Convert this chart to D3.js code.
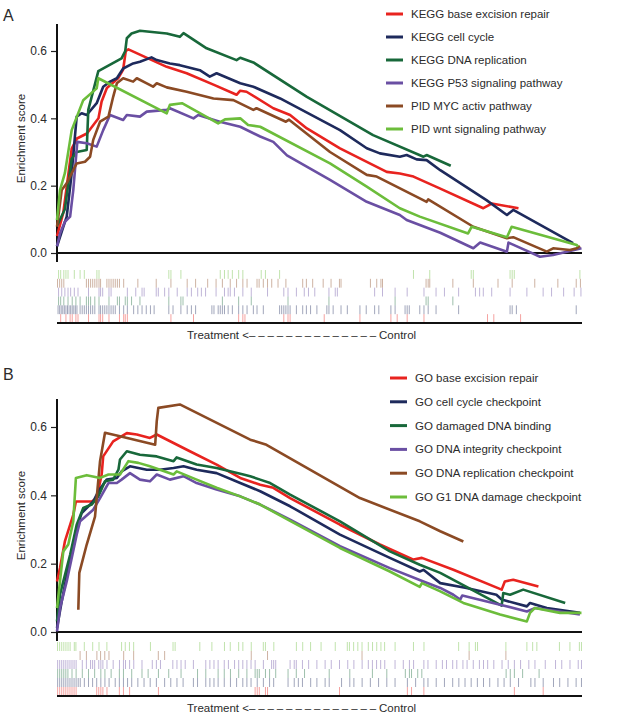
<!DOCTYPE html>
<html>
<head>
<meta charset="utf-8">
<style type="text/css">
body { margin: 0; background: #fff; }
text { font-family: "Liberation Sans", Arial, sans-serif; fill: #2b2b2b; }
</style>
</head>
<body>
<script src="https://d3js.org/d3.v7.min.js"></script>
<script>
// ---- data: running enrichment score, [rank % of gene list, ES] ----
var namesA = ["KEGG base excision repair", "KEGG cell cycle", "KEGG DNA replication",
  "KEGG P53 signaling pathway", "PID MYC activ pathway", "PID wnt signaling pathway"];
var namesB = ["GO base excision repair", "GO cell cycle checkpoint", "GO damaged DNA binding",
  "GO DNA integrity checkpoint", "GO DNA replication checkpoint", "GO G1 DNA damage checkpoint"];
var yTicks = [0, 0.2, 0.4, 0.6];

var esA_ber = [[0,0.05],[1.2,0.12],[2.8,0.31],[3.8,0.34],[5.7,0.355],[7.9,0.40],[8.5,0.45],[9.5,0.49],[11.7,0.52],[12.6,0.545],[13.1,0.60],[13.6,0.605],[20.9,0.553],[24.7,0.534],[29.8,0.50],[34.2,0.47],[34.9,0.482],[36.1,0.479],[41.2,0.43],[44.4,0.41],[47.6,0.37],[53.9,0.311],[62.8,0.241],[65.3,0.236],[67.9,0.227],[72.9,0.192],[81.2,0.133],[82.8,0.147],[87.9,0.133]];
var esA_cellcycle = [[0,0.02],[1.2,0.078],[1.85,0.108],[2.8,0.237],[3.75,0.405],[4.7,0.415],[5.66,0.41],[7.56,0.445],[8.8,0.494],[10.1,0.509],[11.4,0.519],[12.6,0.548],[14.5,0.563],[15.8,0.568],[18,0.581],[19,0.573],[21.5,0.563],[23.4,0.558],[27.2,0.543],[29.1,0.524],[30.4,0.534],[34.9,0.504],[37.4,0.494],[42.5,0.459],[53.9,0.365],[59,0.311],[61.5,0.296],[65.3,0.286],[66.6,0.291],[68.5,0.278],[70.4,0.276],[73,0.246],[81.8,0.157],[85.7,0.113],[86.9,0.128],[98.3,0.029]];
var esA_dnarep = [[0,0.08],[1.5,0.13],[2.8,0.28],[3.75,0.30],[5.66,0.306],[5.96,0.425],[7.87,0.54],[12.3,0.578],[13,0.60],[13.3,0.638],[14.2,0.652],[15.8,0.66],[20.9,0.652],[23.4,0.642],[24.1,0.653],[28.5,0.608],[34.2,0.573],[34.9,0.58],[37.4,0.566],[47.6,0.464],[60.2,0.35],[69.8,0.286],[70.4,0.291],[75,0.259]];
var esA_p53 = [[0,0.02],[0.57,0.058],[1.5,0.093],[2.5,0.108],[3.1,0.187],[3.87,0.33],[5.66,0.326],[7.56,0.316],[8.8,0.365],[10.1,0.41],[12.6,0.395],[13.3,0.41],[15.8,0.405],[17.1,0.42],[20.9,0.425],[21.5,0.43],[26,0.40],[26.9,0.41],[31,0.39],[34.9,0.375],[38.7,0.346],[41.2,0.33],[43.8,0.29],[52,0.217],[59,0.152],[65.3,0.113],[66.6,0.098],[73,0.06],[79.3,0.014],[80.6,0.031],[85.7,0.004],[86,0.031],[92,-0.011],[94.5,-0.006],[97.1,0.004],[99.9,0.014]];
var esA_myc = [[0,0.078],[0.9,0.187],[1.85,0.207],[2.8,0.237],[3.75,0.266],[5.33,0.271],[6.3,0.286],[6.9,0.336],[8.2,0.39],[9.8,0.405],[10.7,0.464],[11.4,0.504],[12.6,0.519],[14.5,0.509],[15.2,0.519],[17.1,0.504],[18.3,0.494],[19,0.504],[20.9,0.492],[24.7,0.479],[29.8,0.459],[33.6,0.454],[37.4,0.425],[38,0.43],[43.6,0.39],[44.2,0.396],[52,0.30],[59,0.232],[60.9,0.227],[69.1,0.162],[70.4,0.152],[70.7,0.159],[79.3,0.078],[85.7,0.044],[86.9,0.047],[93.3,0.004],[94.5,0.014],[97.7,0.009],[99,0.014],[99.6,0.021]];
var esA_wnt = [[0,0.098],[0.57,0.187],[1.5,0.237],[2.8,0.365],[5,0.454],[7.56,0.489],[7.87,0.519],[20.9,0.415],[21.5,0.44],[23.8,0.445],[30.7,0.385],[32,0.397],[34.9,0.40],[36.4,0.38],[38.7,0.375],[52,0.266],[59,0.197],[65.3,0.133],[69.1,0.108],[78.3,0.058],[79,0.078],[85.7,0.047],[86.6,0.078],[99,0.024],[99.2,0.019]];

var esB_ber = [[0,0.148],[0.57,0.187],[1.5,0.265],[3.1,0.343],[3.6,0.382],[6.6,0.382],[7.56,0.392],[8.5,0.46],[8.8,0.514],[10.7,0.558],[13.3,0.582],[15.2,0.578],[17.7,0.568],[19,0.578],[25.3,0.529],[30.4,0.49],[34.9,0.451],[38.7,0.431],[41.2,0.422],[44.4,0.392],[53.9,0.314],[61.5,0.256],[67.9,0.212],[69.5,0.217],[75.5,0.182],[84.7,0.124],[85.3,0.148],[86.9,0.153],[91.7,0.133]];
var esB_cellcycle = [[0,0.012],[0.9,0.09],[2.15,0.187],[3.75,0.304],[4.7,0.348],[6.9,0.382],[7.87,0.412],[9.47,0.446],[11.4,0.451],[12.3,0.47],[13.9,0.485],[17.1,0.475],[19.6,0.475],[22.2,0.48],[24.1,0.485],[26.6,0.475],[30.4,0.465],[34.9,0.436],[38.7,0.412],[44.4,0.368],[53.9,0.285],[63.4,0.217],[69.1,0.177],[69.8,0.182],[73,0.143],[78,0.129],[83.7,0.109],[84.7,0.095],[89.5,0.075],[90.1,0.085],[93.3,0.07],[99.6,0.056]];
var esB_damaged = [[0,0.031],[0.57,0.109],[1.2,0.148],[2.5,0.226],[3.75,0.314],[5,0.363],[6.6,0.373],[7.87,0.397],[9.14,0.441],[10.7,0.446],[11.7,0.475],[12,0.505],[13.3,0.529],[15.8,0.519],[19,0.514],[22.2,0.50],[22.8,0.511],[26.6,0.49],[30.4,0.48],[35.5,0.461],[36.8,0.456],[38.7,0.446],[40.6,0.436],[44.4,0.402],[53.9,0.324],[63.4,0.236],[69.1,0.197],[73,0.173],[84.7,0.077],[85,0.114],[86.3,0.109],[88.8,0.124],[96.8,0.085]];
var esB_integrity = [[0,0.002],[0.57,0.07],[1.85,0.148],[3.75,0.285],[4.4,0.324],[6.9,0.358],[8.2,0.392],[9.8,0.436],[11.4,0.436],[12.3,0.446],[13.9,0.465],[15.8,0.446],[17.7,0.441],[19,0.461],[21.5,0.446],[24.1,0.456],[26.6,0.436],[30.4,0.417],[34.9,0.397],[38.7,0.373],[44.4,0.329],[53.9,0.251],[63.4,0.187],[69.8,0.148],[73,0.129],[75.5,0.109],[76.8,0.095],[77.2,0.107],[84.4,0.08],[89.5,0.06],[91,0.07],[95.8,0.06],[99.6,0.051]];
var esB_replication = [[4.06,0.065],[4.25,0.173],[5.66,0.256],[7.24,0.338],[8.2,0.50],[9.14,0.583],[12,0.573],[18.7,0.548],[19,0.617],[19.3,0.656],[23.4,0.666],[36.8,0.563],[39.9,0.548],[57.7,0.392],[69.1,0.324],[73,0.295],[77.4,0.265]];
var esB_g1 = [[0,0.07],[0.57,0.148],[1.2,0.236],[2.15,0.256],[3.1,0.324],[3.6,0.451],[5.66,0.459],[8.2,0.451],[9.8,0.461],[12,0.461],[13.6,0.50],[15.5,0.495],[17.7,0.485],[22.2,0.461],[22.8,0.47],[26.6,0.446],[30.4,0.422],[34.9,0.397],[38.7,0.373],[44.4,0.325],[53.9,0.246],[63.4,0.177],[69.1,0.132],[69.5,0.143],[73,0.119],[77.4,0.085],[84.4,0.051],[89.5,0.031],[90.1,0.056],[91,0.07],[95.8,0.056],[99.9,0.056]];

// ---- data: gene set hit positions (rank %) ----
var hitsA_ber = [0.7,1.7,2.5,2.9,3.6,4,6,8,8.3,8.7,9.9,11.9,12.7,13,13.4,21.7,26,34.6,35.4,35.8,43.2,44,44.4,50.9,57.7,63.6,64.8,66.7,69.9,82,83.2,88.3];
var hitsA_cellcycle = [0.2,0.5,0.8,1.1,1.4,1.7,2,2.3,2.6,2.9,3.2,3.5,3.8,4.4,4.8,5.2,5.6,6,6.4,6.8,7.2,8,8.3,8.7,9.1,9.5,9.9,10.3,10.7,11.1,11.9,12.7,13.4,14.6,15.4,16.2,17,17.8,18.5,21.3,22.1,23.6,24.8,25.6,26.4,29.5,29.9,30.7,31.1,31.5,31.9,32.6,33.4,34.6,35.4,36.2,37.4,38.1,39.3,42.4,42.8,43.2,43.6,44,44.4,45.6,46.8,47.5,48.3,49.5,51.4,51.8,52.6,54.1,55.3,57.7,58.9,60.5,61.3,63.6,64.4,66.3,66.7,67.1,69.1,69.9,70.7,72.2,76.5,86.3,86.7,87.5,98.9];
var hitsA_dnarep = [0.3,0.7,1.3,2.1,2.9,3.6,4.4,5.6,6,6.4,7.2,8,9.9,11.5,11.9,13,13.4,14.2,15.8,21.3,23.6,24,31.5,34.6,37,44,51.8,64.4,70.3,70.7,75.4];
var hitsA_p53 = [0.3,0.9,1.5,2.1,2.6,3.3,4,6,8,8.3,8.7,9.9,10.3,13.4,15,16.2,16.6,18.9,19.3,20.5,21.3,22.9,24.8,25.6,26.8,27.5,28.3,30.3,31.9,32.6,33,33.8,35.4,37,40.1,43.2,44,45.6,47.1,47.9,49.1,51.8,53,53.4,60.5,62,64.4,66.7,69.9,72.2,73.8,76.5,79.7,80.5,81.2,82.8,86.3,89.5,92.6,94.2,96.5,98.5,99.8];
var hitsA_myc = [0.1,0.5,0.9,1.3,5.6,6,6.4,6.8,7.2,7.6,8,8.3,9.5,9.9,10.3,10.7,11.1,11.5,11.9,12.7,15.4,18.9,21.7,24.8,26.4,28.7,30.3,31.5,33,34.2,35.4,36.2,38.1,38.5,39.3,40.1,40.9,42.1,43.6,46.8,47.5,48.7,50.7,52.2,53.8,54.1,59.7,60.9,61.7,62,70.3,70.7,71,75.4,79.3,84,86.7,91,95.4,98.9,99.7];
var hitsA_wnt = [0.3,0.7,1.3,1.7,2.1,3.3,4.4,5.2,7.6,8,21.3,21.7,23.6,31.1,31.9,32.6,33.4,34.6,35.4,38.9,39.7,42.4,67.9,71,78.9,79.3,86.3,86.7,87.1,99.6];

var hitsB_ber = [0.12,0.51,0.9,1.29,1.68,2.08,2.47,2.86,3.25,3.64,7.56,7.95,8.35,8.74,9.52,11.88,12.66,13.83,19.32,37.74,38.14,38.53,39.71,40.1,53.81,66.74,67.53,69.88,87.12,92.61];
var hitsB_cellcycle = [0.12,0.51,0.9,1.29,1.68,2.08,2.47,2.86,3.25,3.64,4.04,4.43,5.21,6,6.78,7.56,8.35,9.13,9.92,11.09,11.88,12.66,13.44,14.23,15.4,16.58,17.75,18.93,20.5,21.67,22.85,24.02,25.98,26.77,28.34,29.12,29.9,30.69,31.86,33.04,34.21,35.39,36.17,36.96,38.14,39.31,40.49,41.27,44.01,45.19,45.97,46.75,48.32,49.5,51.07,51.85,54.2,55.77,56.55,58.12,59.69,61.25,62.82,64.39,66.74,68.31,69.88,70.66,72.23,73.8,75.37,76.54,77.72,78.89,80.07,81.24,82.42,83.99,85.16,86.34,87.91,90.26,91.04,92.61,94.57,95.75,97.32,98.88,99.9];
var hitsB_damaged = [0.12,0.51,0.9,1.29,1.68,2.08,2.86,3.64,4.82,6,7.17,8.35,9.13,10.31,11.88,12.66,14.23,16.19,17.36,19.32,21.28,23.63,26.77,28.34,30.69,31.86,33.04,34.61,36.17,37.74,38.14,38.53,39.71,40.49,41.66,44.01,45.58,47.15,51.85,55.77,60.08,62.82,66.35,67.13,67.53,68.71,69.49,85.55,86.34,87.12,88.69,91.83];
var hitsB_integrity = [0.12,0.51,0.9,1.29,1.68,2.08,2.47,2.86,3.25,3.64,4.82,5.6,6.39,6.78,7.17,7.95,8.35,8.74,9.52,10.7,11.9,12.66,13.05,13.83,14.62,16.19,18.15,18.93,19.71,22.06,22.85,23.63,24.42,25.98,28.34,29.12,29.9,30.69,31.86,32.65,33.82,34.61,35.39,36.17,36.96,37.74,39.31,40.88,41.27,41.66,44.4,45.19,45.58,46.75,47.93,49.5,51.07,52.24,53.81,55.38,56.55,58.12,59.3,60.08,60.87,61.65,62.43,64.39,65.96,67.13,67.92,69.88,70.66,72.23,73.41,74.19,75.37,76.15,77.32,78.11,79.29,80.46,81.24,82.03,83.2,84.77,85.95,87.12,88.3,89.87,91.04,93,94.96,96.14,97.71,99.28,99.9];
var hitsB_replication = [4.4,5.6,7.6,8.3,9.1,9.9,12.7,14.6,19.3,20.5,37,40.1,58.1,78.5,85.5];
var hitsB_g1 = [0.1,0.5,0.9,1.3,1.7,2.1,2.5,3.3,3.6,5.2,6.8,8,9.5,12.3,13,13.8,14.6,17.8,22.1,22.5,27.2,29.5,31.9,33,34.6,35.4,37,39.3,39.7,41.3,45.6,46.8,48.3,50.3,53,55.3,55.7,56.5,57.3,58.1,59.3,60.1,60.9,61.7,62.4,64.4,67.9,69.9,76.5,78.5,79.7,80.1,85.5,89.5,90.6,91.4,95.7,97.7,99.5,99.9];

var esA = [esA_ber, esA_cellcycle, esA_dnarep, esA_p53, esA_myc, esA_wnt];
var esB = [esB_ber, esB_cellcycle, esB_damaged, esB_integrity, esB_replication, esB_g1];
var hitsA = [hitsA_ber, hitsA_cellcycle, hitsA_dnarep, hitsA_p53, hitsA_myc, hitsA_wnt];
var hitsB = [hitsB_ber, hitsB_cellcycle, hitsB_damaged, hitsB_integrity, hitsB_replication, hitsB_g1];

// same palette in both panels
var colors = ["#e8231f", "#1e2a5c", "#18683a", "#6a4fa3", "#8b4a24", "#6cbd3b"];

var W = 642, H = 720;
var svg = d3.select("body").append("svg")
  .attr("width", W).attr("height", H);
svg.append("rect").attr("width", W).attr("height", H).attr("fill", "#fff");

var x = d3.scaleLinear().domain([0, 100]).range([57, 582]);

function panel(cfg) {
  var g = svg.append("g");
  var y = d3.scaleLinear().domain([0, 0.6]).range([cfg.y0, cfg.y06]);

  g.append("text").attr("x", 3).attr("y", cfg.labelY)
    .style("font-size", "16px").text(cfg.label);

  // y axis
  var ax = g.append("g").attr("transform", "translate(57,0)")
    .call(d3.axisLeft(y).tickValues(yTicks).tickFormat(d3.format(".1f")).tickSize(6).tickPadding(4));
  ax.select(".domain").remove();
  ax.selectAll(".tick line").attr("stroke", "#222").attr("stroke-width", 1.2);
  ax.selectAll(".tick text").style("font-size", "12px")
    .style("font-family", "'Liberation Sans', Arial, sans-serif").attr("fill", "#333");

  g.append("line").attr("x1", 57).attr("x2", 57)
    .attr("y1", cfg.axisTop).attr("y2", cfg.y0 + 9)
    .attr("stroke", "#111").attr("stroke-width", 2);
  g.append("line").attr("x1", 57).attr("x2", 582)
    .attr("y1", cfg.y0).attr("y2", cfg.y0)
    .attr("stroke", "#111").attr("stroke-width", 2);

  g.append("text")
    .attr("transform", "translate(25," + ((cfg.axisTop + cfg.y0) / 2) + ") rotate(-90)")
    .attr("text-anchor", "middle").style("font-size", "11.5px")
    .text("Enrichment score");

  // curves
  var line = d3.line().x(function(d){ return x(d[0]); }).y(function(d){ return y(d[1]); });
  g.selectAll("path.es").data(cfg.es).enter().append("path")
    .attr("class", "es")
    .attr("d", line)
    .attr("fill", "none")
    .attr("stroke", function(d, i){ return colors[i]; })
    .attr("stroke-width", 2.6)
    .attr("stroke-linejoin", "round");

  // legend
  cfg.names.forEach(function(n, i){
    var ly = cfg.legY + i * cfg.legStep;
    g.append("line").attr("x1", cfg.legX).attr("x2", cfg.legX + 17)
      .attr("y1", ly).attr("y2", ly)
      .attr("stroke", colors[i]).attr("stroke-width", 3);
    g.append("text").attr("x", cfg.legX + 25).attr("y", ly).attr("dy", "0.35em")
      .style("font-size", "11.5px").text(n);
  });

  // barcode rows, last series on top
  var rows = d3.scaleBand().domain([5, 4, 3, 2, 1, 0]).range([cfg.barTop, cfg.barBottom]);
  cfg.hits.forEach(function(h, i){
    g.append("g").selectAll("line").data(h).enter().append("line")
      .attr("x1", function(d){ return x(d); }).attr("x2", function(d){ return x(d); })
      .attr("y1", rows(i)).attr("y2", rows(i) + rows.bandwidth())
      .attr("stroke", colors[i]).attr("stroke-opacity", 0.42).attr("stroke-width", 1);
  });
  g.append("line").attr("x1", 57).attr("x2", 582)
    .attr("y1", cfg.barBottom).attr("y2", cfg.barBottom)
    .attr("stroke", "#111").attr("stroke-width", 2);

  var t = g.append("text").attr("x", 187).attr("y", cfg.barBottom + 16)
    .style("font-size", "11.5px");
  t.append("tspan").text("Treatment <");
  t.append("tspan").style("letter-spacing", "2.9px").text("\u2013\u2013\u2013\u2013\u2013\u2013\u2013\u2013\u2013\u2013\u2013\u2013\u2013\u2013");
  t.append("tspan").text("Control");
}

panel({label: "A", labelY: 21, y0: 253, y06: 51, axisTop: 24,
  es: esA, names: namesA, hits: hitsA,
  legX: 386, legY: 14, legStep: 23, barTop: 270, barBottom: 323});
panel({label: "B", labelY: 380, y0: 632, y06: 427, axisTop: 399,
  es: esB, names: namesB, hits: hitsB,
  legX: 390, legY: 378, legStep: 23.8, barTop: 642, barBottom: 696});
</script>
</body>
</html>
